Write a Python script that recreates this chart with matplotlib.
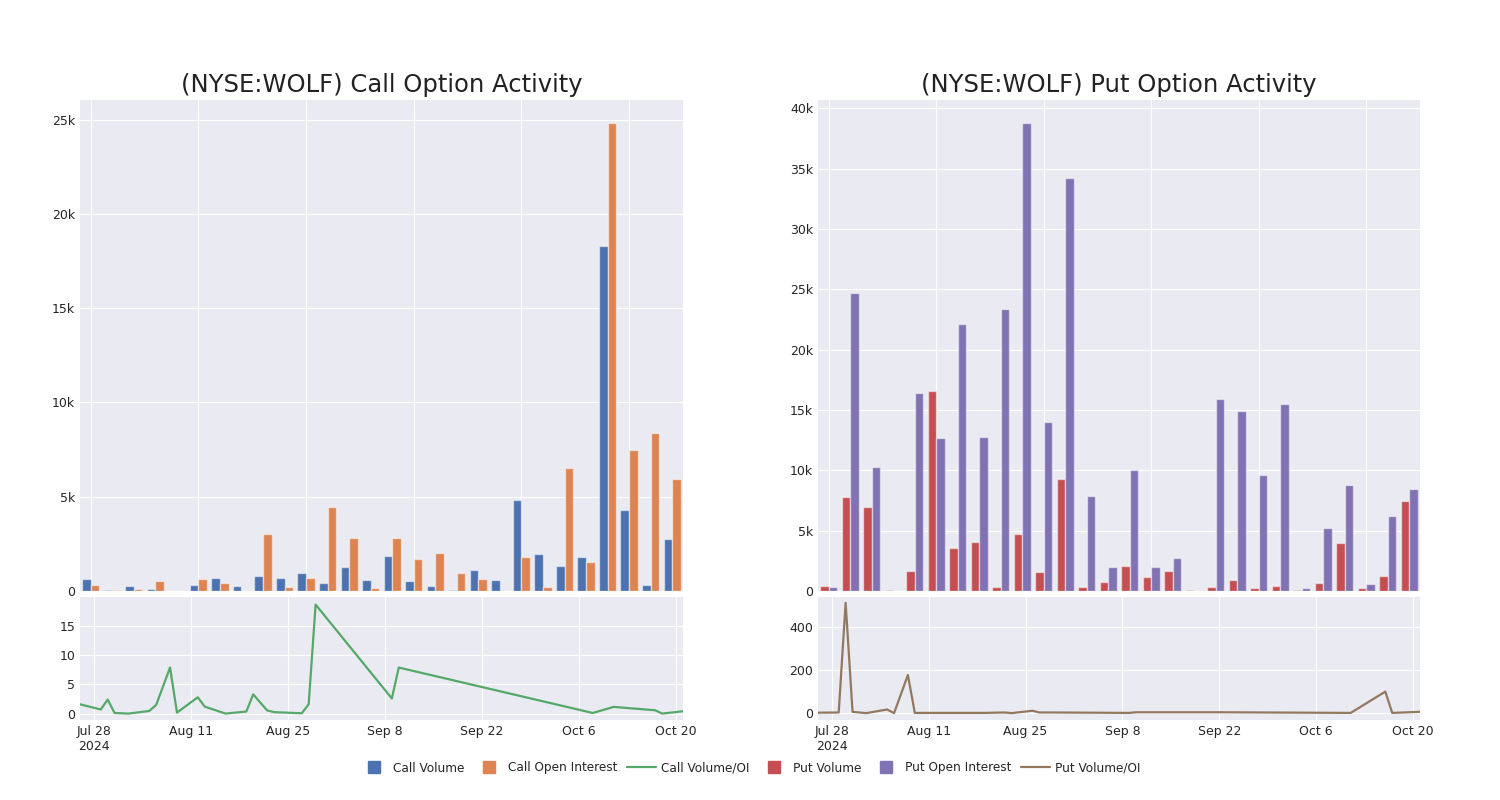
import matplotlib
matplotlib.use('Agg')
import matplotlib.pyplot as plt
from matplotlib.lines import Line2D
from matplotlib.ticker import FuncFormatter
import numpy as np
import pandas as pd

# bar data, one value per trading day (categorical axis)
call_volume = [625, 35, 270, 90, 0, 340, 710, 290, 820, 710, 930, 450, 1250, 570,
               1860, 540, 250, 55, 1100, 570, 4800, 1980, 1300, 1790, 18300, 4300, 320, 2750]
call_oi = [340, 70, 90, 550, 20, 640, 450, 20, 3020, 210, 710, 4430, 2790, 140,
           2800, 1710, 2020, 980, 625, 20, 1820, 210, 6540, 1540, 24800, 7480, 8360, 5960]
put_volume = [400, 7760, 6980, 50, 1660, 16600, 3600, 4070, 330, 4760, 1580, 9300, 330, 750,
              2100, 1160, 1660, 80, 330, 940, 220, 390, 80, 690, 3990, 280, 1250, 7420]
put_oi = [330, 24700, 10250, 0, 16400, 12700, 22160, 12740, 23400, 38750, 14000, 34200, 7840, 1970,
          10030, 2000, 2770, 0, 15900, 14900, 9640, 15500, 280, 5260, 8750, 550, 6200, 8420]

# volume / open interest ratio lines
call_ratio_dates = ['2024-07-26', '2024-07-29', '2024-07-30', '2024-07-31', '2024-08-02', '2024-08-05',
                    '2024-08-06', '2024-08-08', '2024-08-09', '2024-08-12', '2024-08-13', '2024-08-16',
                    '2024-08-19', '2024-08-20', '2024-08-22', '2024-08-23', '2024-08-27', '2024-08-28',
                    '2024-08-29', '2024-09-09', '2024-09-10', '2024-10-08', '2024-10-11', '2024-10-17',
                    '2024-10-18', '2024-10-21']
call_ratio = [1.6, 0.7, 2.4, 0.1, 0.0, 0.45, 1.5, 7.9, 0.17, 2.8, 1.2, 0.0,
              0.35, 3.3, 0.55, 0.25, 0.05, 1.6, 18.7, 2.6, 7.9, 0.1, 1.15, 0.57, 0.0, 0.4]
put_ratio_dates = ['2024-07-26', '2024-07-29', '2024-07-30', '2024-07-31', '2024-08-02', '2024-08-05',
                   '2024-08-06', '2024-08-08', '2024-08-09', '2024-08-12', '2024-08-16', '2024-08-19',
                   '2024-08-22', '2024-08-23', '2024-08-26', '2024-08-27', '2024-08-29', '2024-09-09',
                   '2024-09-10', '2024-09-22', '2024-10-11', '2024-10-16', '2024-10-17', '2024-10-21']
put_ratio = [2, 3, 513, 6, 0, 17, 0, 177, 1, 1, 1, 1,
             3, 0, 11, 3, 3, 1, 4, 4, 1, 100, 1, 6]

date_ticks = ['2024-07-28', '2024-08-11', '2024-08-25', '2024-09-08', '2024-09-22', '2024-10-06', '2024-10-20']

c_blue, c_orange, c_green = '#4C72B0', '#DD8452', '#55A868'
c_red, c_purple, c_brown = '#C44E52', '#8172B3', '#937860'

plt.style.use('seaborn-v0_8-darkgrid')
plt.rcParams['font.family'] = ['DejaVu Sans']

fig = plt.figure(figsize=(15, 8), dpi=100)

def kfmt(v, pos):
    if v == 0:
        return '0'
    return '%gk' % (v / 1000.0)

def bar_panel(ax, vol, oi, col1, col2, title):
    x = np.arange(len(vol))
    w = 0.4
    ax.bar(x - 0.2, vol, w, color=col1, edgecolor=(1, 1, 1, 0.5), linewidth=1)
    ax.bar(x + 0.2, oi, w, color=col2, edgecolor=(1, 1, 1, 0.5), linewidth=1)
    ax.set_xlim(-0.5, len(vol) - 0.5)
    top = max(max(vol), max(oi)) * 1.05
    ax.set_ylim(0, top)
    ax.set_xticks(range(0, len(vol), 5))
    ax.set_xticklabels([])
    ax.yaxis.set_major_formatter(FuncFormatter(kfmt))
    ax.tick_params(labelsize=9, length=0)
    ax.set_title(title, fontsize=17.5, pad=6, color='#222222')

def line_panel(ax, dates, vals, col, yticks, ylim):
    d = pd.to_datetime(dates)
    ax.plot(d, vals, color=col, linewidth=1.6)
    ax.set_xlim(d.min(), d.max())
    ax.set_ylim(*ylim)
    ax.set_yticks(yticks)
    ticks = pd.to_datetime(date_ticks)
    ax.set_xticks(ticks)
    labels = [t.strftime('%b ') + str(t.day) for t in ticks]
    labels[0] = labels[0] + '\n' + str(ticks[0].year)
    ax.set_xticklabels(labels)
    ax.tick_params(labelsize=9, length=0)

ax1 = fig.add_axes([0.0533, 0.26125, 0.402, 0.61375])
ax2 = fig.add_axes([0.0533, 0.1, 0.402, 0.15375])
ax3 = fig.add_axes([0.5453, 0.26125, 0.4013, 0.61375])
ax4 = fig.add_axes([0.5453, 0.1, 0.4013, 0.15375])

bar_panel(ax1, call_volume, call_oi, c_blue, c_orange, '(NYSE:WOLF) Call Option Activity')
bar_panel(ax3, put_volume, put_oi, c_red, c_purple, '(NYSE:WOLF) Put Option Activity')
line_panel(ax2, call_ratio_dates, call_ratio, c_green, [0, 5, 10, 15], (-1.1, 20))
line_panel(ax4, put_ratio_dates, put_ratio, c_brown, [0, 200, 400], (-32, 540))

handles = [
    Line2D([], [], marker='s', linestyle='none', markersize=9, color=c_blue),
    Line2D([], [], marker='s', linestyle='none', markersize=9, color=c_orange),
    Line2D([], [], color=c_green, linewidth=1.6),
    Line2D([], [], marker='s', linestyle='none', markersize=9, color=c_red),
    Line2D([], [], marker='s', linestyle='none', markersize=9, color=c_purple),
    Line2D([], [], color=c_brown, linewidth=1.6),
]
names = ['Call Volume', 'Call Open Interest', 'Call Volume/OI', 'Put Volume', 'Put Open Interest', 'Put Volume/OI']
fig.legend(handles, names, loc='center', bbox_to_anchor=(0.5, 0.04), ncol=6, frameon=False,
           fontsize=8.7, handlelength=2.4, columnspacing=0.8, handletextpad=0.4)

fig.savefig('out.png', dpi=100)
